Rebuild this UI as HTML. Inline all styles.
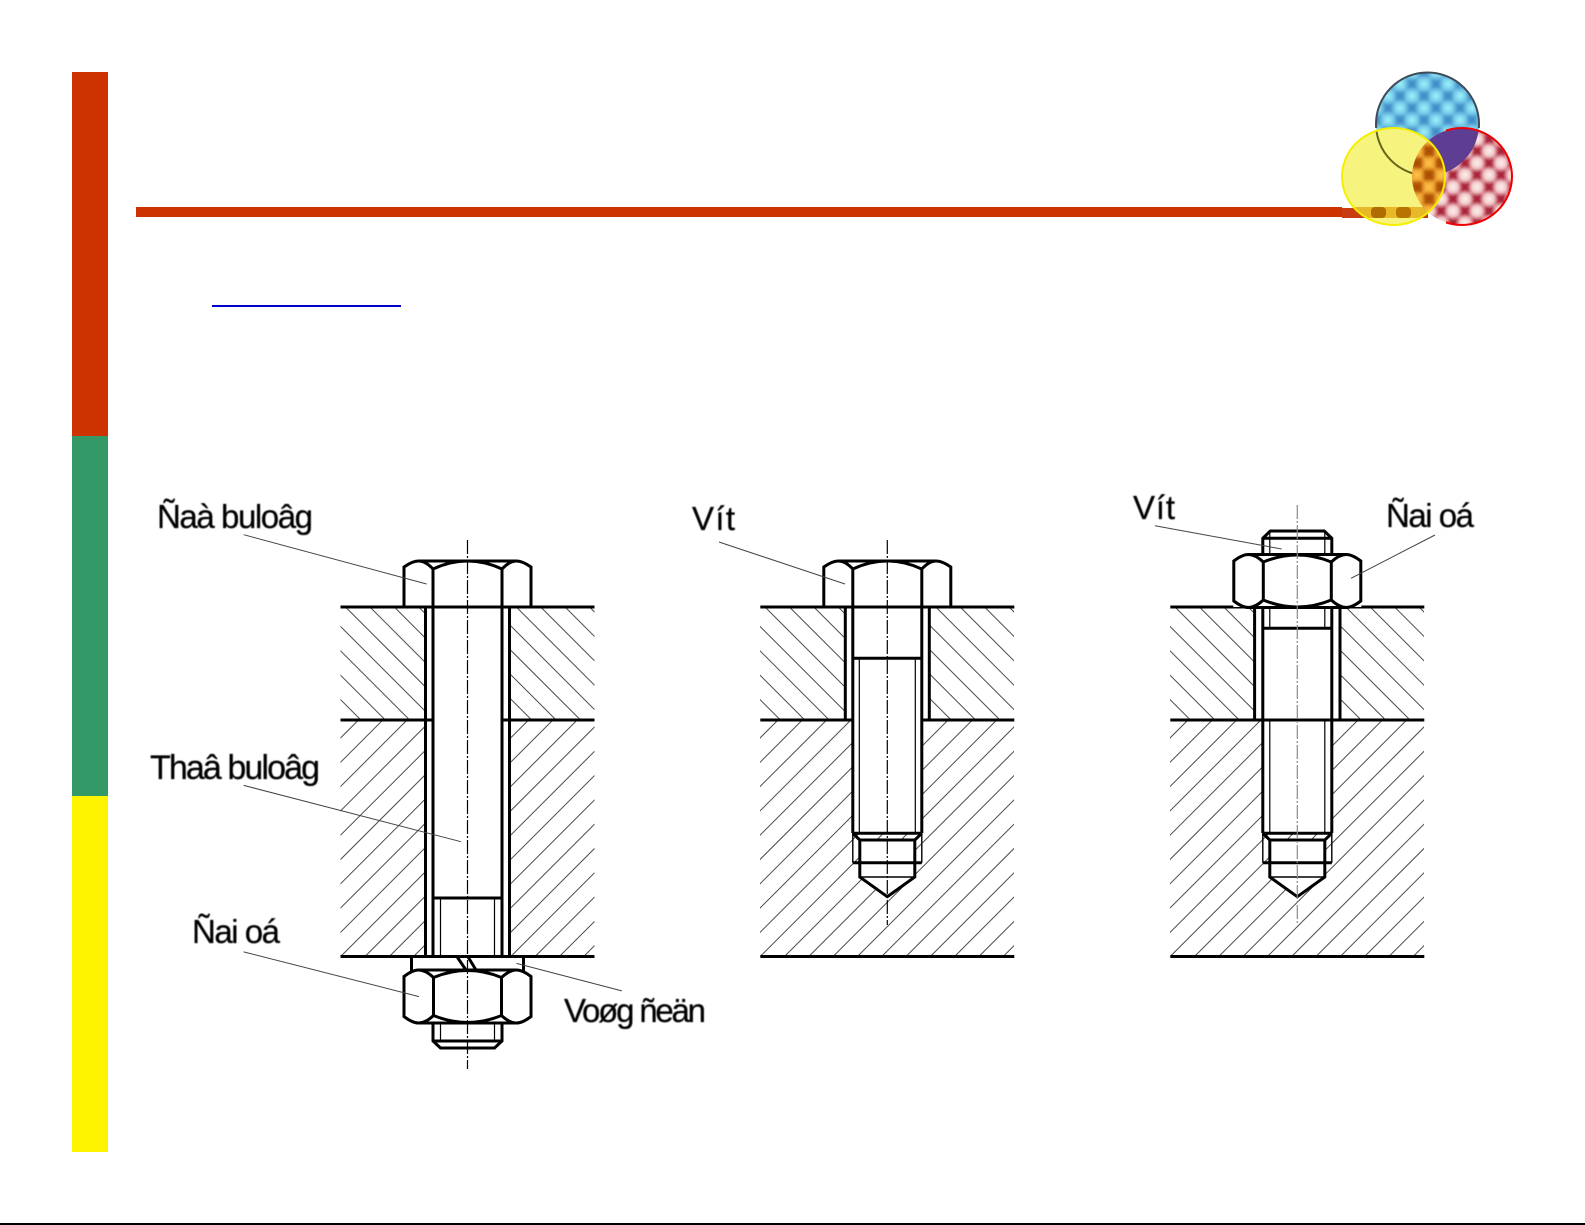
<!DOCTYPE html>
<html>
<head>
<meta charset="utf-8">
<style>
html,body{margin:0;padding:0;background:#fff;width:1585px;height:1225px;overflow:hidden}
svg{display:block}
.t{font-family:"Liberation Sans",Arial,sans-serif;fill:#000;stroke:#000;stroke-width:.25px;filter:blur(.5px)}
</style>
</head>
<body>
<svg width="1585" height="1225" viewBox="0 0 1585 1225" xmlns="http://www.w3.org/2000/svg">
<defs>
  <clipPath id="cU"><rect x="0" y="0" width="254" height="113"/></clipPath>
  <clipPath id="cL"><rect x="0" y="113" width="254" height="236"/></clipPath>
  <g id="hatch" fill="none" stroke="#4c4c4c" stroke-width="1">
    <g clip-path="url(#cU)">
      <path d="M-92.6 0l113 113M-68.2 0l113 113M-43.8 0l113 113M-19.4 0l113 113M5 0l113 113M29.4 0l113 113M53.8 0l113 113M78.2 0l113 113M102.6 0l113 113M127 0l113 113M151.4 0l113 113M175.8 0l113 113M200.2 0l113 113M224.6 0l113 113M249 0l113 113"/>
    </g>
    <g clip-path="url(#cL)">
      <path d="M18 113l-236 236M42.3 113l-236 236M66.6 113l-236 236M90.9 113l-236 236M115.2 113l-236 236M139.5 113l-236 236M163.8 113l-236 236M188.1 113l-236 236M212.4 113l-236 236M236.7 113l-236 236M261 113l-236 236M285.3 113l-236 236M309.6 113l-236 236M333.9 113l-236 236M358.2 113l-236 236M382.5 113l-236 236M406.8 113l-236 236M431.1 113l-236 236M455.4 113l-236 236M479.7 113l-236 236"/>
    </g>
  </g>
  <path id="head" d="M-63.5 0V-40Q-55 -46 -49 -46Q-42 -46 -34.5 -38V0M34.5 0V-38Q42 -46 49 -46Q55 -46 63.5 -40V0M-49 -46H49M-34.5 -38Q0 -54 34.5 -38"/>
  <path id="nut" d="M-63.5 -20V20Q-55 26.5 -49 26.5Q-42 26.5 -34 19V-19Q-42 -26.5 -49 -26.5Q-55 -26.5 -63.5 -20ZM34 -19Q42 -26.5 49 -26.5Q55 -26.5 63.5 -20V20Q55 26.5 49 26.5Q42 26.5 34 19ZM-49 -26.5H49M-49 26.5H49M-34 -19Q0 -33 34 -19M-34 19Q0 33 34 19"/>
  <g id="pilot">
    <path d="M-27.5 840H27.5V877L0 896.7L-27.5 877Z" fill="#fff" stroke="none"/>
    <path d="M-34.5 833.3H34.5M-34.5 833.3L-27.5 840M34.5 833.3L27.5 840M-27.5 840H27.5M-27.5 840V877L0 896.7L27.5 877V840M-34.5 862.7H34.5" fill="none" stroke="#000" stroke-width="3"/>
    <path d="M-34.5 833V862.7M34.5 833V862.7M-27.5 877H27.5" fill="none" stroke="#000" stroke-width="1.4"/>
  </g>

  <radialGradient id="gd"><stop offset="0" stop-color="#3d86c4"/><stop offset="1" stop-color="#3d86c4" stop-opacity="0"/></radialGradient>
  <radialGradient id="gl"><stop offset="0" stop-color="#9cf0fa"/><stop offset="1" stop-color="#9cf0fa" stop-opacity="0"/></radialGradient>
  <radialGradient id="rd"><stop offset="0" stop-color="#a82238"/><stop offset=".5" stop-color="#a82238" stop-opacity=".8"/><stop offset="1" stop-color="#a82238" stop-opacity="0"/></radialGradient>
  <radialGradient id="rl"><stop offset="0" stop-color="#fdeeea"/><stop offset=".5" stop-color="#fbe4e0" stop-opacity=".8"/><stop offset="1" stop-color="#fbe4e0" stop-opacity="0"/></radialGradient>
  <radialGradient id="od"><stop offset="0" stop-color="#a84c00"/><stop offset=".5" stop-color="#a84c00" stop-opacity=".8"/><stop offset="1" stop-color="#a84c00" stop-opacity="0"/></radialGradient>
  <radialGradient id="ol"><stop offset="0" stop-color="#ffc04a"/><stop offset="1" stop-color="#ffc04a" stop-opacity="0"/></radialGradient>
  <pattern id="pB" patternUnits="userSpaceOnUse" x="1388" y="108" width="24" height="24">
    <rect width="24" height="24" fill="#66bce2"/>
    <circle cx="0" cy="0" r="9" fill="url(#gd)"/><circle cx="24" cy="0" r="9" fill="url(#gd)"/><circle cx="0" cy="24" r="9" fill="url(#gd)"/><circle cx="24" cy="24" r="9" fill="url(#gd)"/><circle cx="12" cy="12" r="9" fill="url(#gd)"/>
    <circle cx="12" cy="0" r="9" fill="url(#gl)"/><circle cx="12" cy="24" r="9" fill="url(#gl)"/><circle cx="0" cy="12" r="9" fill="url(#gl)"/><circle cx="24" cy="12" r="9" fill="url(#gl)"/>
  </pattern>
  <pattern id="pR" patternUnits="userSpaceOnUse" x="1453" y="175" width="24" height="24">
    <rect width="24" height="24" fill="#d87a88"/>
    <circle cx="0" cy="0" r="10" fill="url(#rd)"/><circle cx="24" cy="0" r="10" fill="url(#rd)"/><circle cx="0" cy="24" r="10" fill="url(#rd)"/><circle cx="24" cy="24" r="10" fill="url(#rd)"/><circle cx="12" cy="12" r="10" fill="url(#rd)"/>
    <circle cx="12" cy="0" r="10" fill="url(#rl)"/><circle cx="12" cy="24" r="10" fill="url(#rl)"/><circle cx="0" cy="12" r="10" fill="url(#rl)"/><circle cx="24" cy="12" r="10" fill="url(#rl)"/>
  </pattern>
  <pattern id="pO" patternUnits="userSpaceOnUse" x="1453" y="175" width="24" height="24">
    <rect width="24" height="24" fill="#ea9a28"/>
    <circle cx="0" cy="0" r="9" fill="url(#od)"/><circle cx="24" cy="0" r="9" fill="url(#od)"/><circle cx="0" cy="24" r="9" fill="url(#od)"/><circle cx="24" cy="24" r="9" fill="url(#od)"/><circle cx="12" cy="12" r="9" fill="url(#od)"/>
    <circle cx="12" cy="0" r="9" fill="url(#ol)"/><circle cx="12" cy="24" r="9" fill="url(#ol)"/><circle cx="0" cy="12" r="9" fill="url(#ol)"/><circle cx="24" cy="12" r="9" fill="url(#ol)"/>
  </pattern>
  <clipPath id="cY"><ellipse cx="1393.5" cy="176.5" rx="51.5" ry="48.5"/></clipPath>
  <clipPath id="cR"><ellipse cx="1462" cy="176.5" rx="50" ry="48.5"/></clipPath>
  <clipPath id="cTop"><rect x="1340" y="60" width="180" height="68"/></clipPath>
  <clipPath id="cRight"><rect x="1446" y="100" width="80" height="140"/></clipPath>
</defs>

<!-- side bar -->
<rect x="72" y="72" width="36" height="364" fill="#CC3300"/>
<rect x="72" y="436" width="36" height="360" fill="#339966"/>
<rect x="72" y="796" width="36" height="356" fill="#FFF400"/>
<!-- rule -->
<rect x="136" y="207" width="1206" height="10" fill="#CC3300"/>
<rect x="1342" y="208" width="86" height="10" fill="#c93c12"/>
<!-- underline -->
<rect x="212" y="305" width="189" height="2" fill="#0000CC"/>
<!-- bottom line -->
<rect x="0" y="1223" width="1585" height="2" fill="#000"/>

<!-- logo -->
<ellipse cx="1427.5" cy="124" rx="51.5" ry="51.5" fill="url(#pB)"/>
<g clip-path="url(#cTop)"><ellipse cx="1427.5" cy="124" rx="51.5" ry="51.5" fill="none" stroke="#3f4c58" stroke-width="2"/></g>
<ellipse cx="1462" cy="176.5" rx="50" ry="48.5" fill="url(#pR)"/>
<g clip-path="url(#cR)"><ellipse cx="1427.5" cy="124" rx="51.5" ry="51.5" fill="#5e3e92"/></g>
<ellipse cx="1393.5" cy="176.5" rx="51.5" ry="48.5" fill="#f6f37e"/>
<g clip-path="url(#cY)">
  <ellipse cx="1427.5" cy="124" rx="51.5" ry="51.5" fill="none" stroke="#66661a" stroke-width="2"/>
  <rect x="1342" y="207" width="90" height="11" fill="#e8b828"/>
  <rect x="1371" y="207" width="15" height="11" rx="4" fill="#b06c00"/>
  <rect x="1396" y="207" width="15" height="11" rx="4" fill="#b87400"/>
  <ellipse cx="1462" cy="176.5" rx="50" ry="48.5" fill="url(#pO)"/>
</g>
<g clip-path="url(#cRight)"><ellipse cx="1462" cy="176.5" rx="50" ry="48.5" fill="none" stroke="#f00000" stroke-width="2"/></g>
<ellipse cx="1393.5" cy="176.5" rx="51.5" ry="48.5" fill="none" stroke="#f4ee00" stroke-width="2"/>

<!-- Assembly 1 -->
<use href="#hatch" transform="translate(340.5,607)"/>
<g transform="translate(467.5,0)" fill="none" stroke="#000" stroke-linecap="butt">
  <rect x="-42" y="607" width="84" height="349" fill="#fff" stroke="none"/>
  <path d="M-127 607H127M-127 720H-34.5M34.5 720H127M-127 956.5H127" stroke-width="3"/>
  <path d="M-42 607V956M42 607V956M-34.5 607V956M34.5 607V956M-34.5 898H34.5" stroke-width="3"/>
  <path d="M-27 898V956M27 898V956" stroke-width="1.2"/>
  <use href="#head" y="607" stroke-width="3"/>
  <path d="M-56 956V971M56 956V971M-11 956L-1.5 970M0 956L8.5 970" stroke-width="3"/>
  <rect x="-64" y="971" width="128" height="52" fill="#fff" stroke="none"/>
  <use href="#nut" y="996.5" stroke-width="3"/>
  <path d="M-34.5 1023V1041L-27 1048H27L34.5 1041V1023M-34.5 1041H34.5" stroke-width="3"/>
  <path d="M-27 1023V1041M27 1023V1041" stroke-width="1.2"/>
  <path d="M0 540V1069" stroke-width="1.2" stroke-dasharray="14 2 2 2"/>
</g>

<!-- Assembly 2 -->
<use href="#hatch" transform="translate(760,607)"/>
<g transform="translate(887.3,0)" fill="none" stroke="#000">
  <rect x="-42" y="607" width="84" height="113" fill="#fff" stroke="none"/>
  <rect x="-34" y="720" width="68" height="114" fill="#fff" stroke="none"/>
  <path d="M-127 607H127M-127 720H-34.5M34.5 720H127M-127 956.5H127" stroke-width="3"/>
  <path d="M-42 607V720M42 607V720M-34.5 607V833M34.5 607V833M-34.5 658.3H34.5" stroke-width="3"/>
  <path d="M-28 658V833M28 658V833" stroke-width="1.2"/>
  <use href="#head" y="607" stroke-width="3"/>
  <use href="#pilot"/>
  <path d="M0 540V925" stroke-width="1.2" stroke-dasharray="14 2 2 2"/>
</g>

<!-- Assembly 3 -->
<use href="#hatch" transform="translate(1170,607)"/>
<g transform="translate(1297.3,0)" fill="none" stroke="#000">
  <rect x="-42.7" y="607" width="85.4" height="113" fill="#fff" stroke="none"/>
  <rect x="-34" y="720" width="68" height="114" fill="#fff" stroke="none"/>
  <path d="M-127 607H127M-127 720H127M-127 956.5H127" stroke-width="3"/>
  <path d="M-42.7 607V720M42.7 607V720M-34.5 607V833M34.5 607V833M-34.5 628.3H34.5" stroke-width="3"/>
  <path d="M-27.5 607V628M27.5 607V628M-27.5 720V833M27.5 720V833" stroke-width="1.2"/>
  <use href="#pilot"/>
  <path d="M-34.5 554V538.3L-27 531H27L34.5 538.3V554M-34.5 538.3H34.5" stroke-width="3"/>
  <path d="M-27.5 531V554M27.5 531V554" stroke-width="1.2"/>
  <rect x="-64" y="555" width="128" height="52" fill="#fff" stroke="none"/>
  <use href="#nut" y="581" stroke-width="3"/>
  <path d="M0 505V925" stroke="#8a8a8a" stroke-width="1.2" stroke-dasharray="14 2 2 2"/>
</g>

<!-- leaders -->
<g stroke="#444" stroke-width="1" fill="none">
  <path d="M243.7 534.7L426.6 584"/>
  <path d="M243.7 785.4L461 841.7"/>
  <path d="M243.7 951.9L419 996.6"/>
  <path d="M621.8 990.9L516.5 963.4"/>
  <path d="M719 542L845 584"/>
  <path d="M1155 525.7L1281.7 549"/>
  <path d="M1435 535L1351 578.3"/>
</g>

<!-- labels -->
<text class="t" x="157" y="528" font-size="33" textLength="156" lengthAdjust="spacing">Ñaà buloâg</text>
<text class="t" x="150" y="779" font-size="34" textLength="170" lengthAdjust="spacing">Thaâ buloâg</text>
<text class="t" x="192" y="943" font-size="33" textLength="88" lengthAdjust="spacing">Ñai oá</text>
<text class="t" x="564" y="1022" font-size="33" textLength="142" lengthAdjust="spacing">Voøg ñeän</text>
<text class="t" x="692" y="530" font-size="33" textLength="43" lengthAdjust="spacing">Vít</text>
<text class="t" x="1133" y="519" font-size="33" textLength="42" lengthAdjust="spacing">Vít</text>
<text class="t" x="1386" y="527" font-size="33" textLength="88" lengthAdjust="spacing">Ñai oá</text>
</svg>
</body>
</html>
